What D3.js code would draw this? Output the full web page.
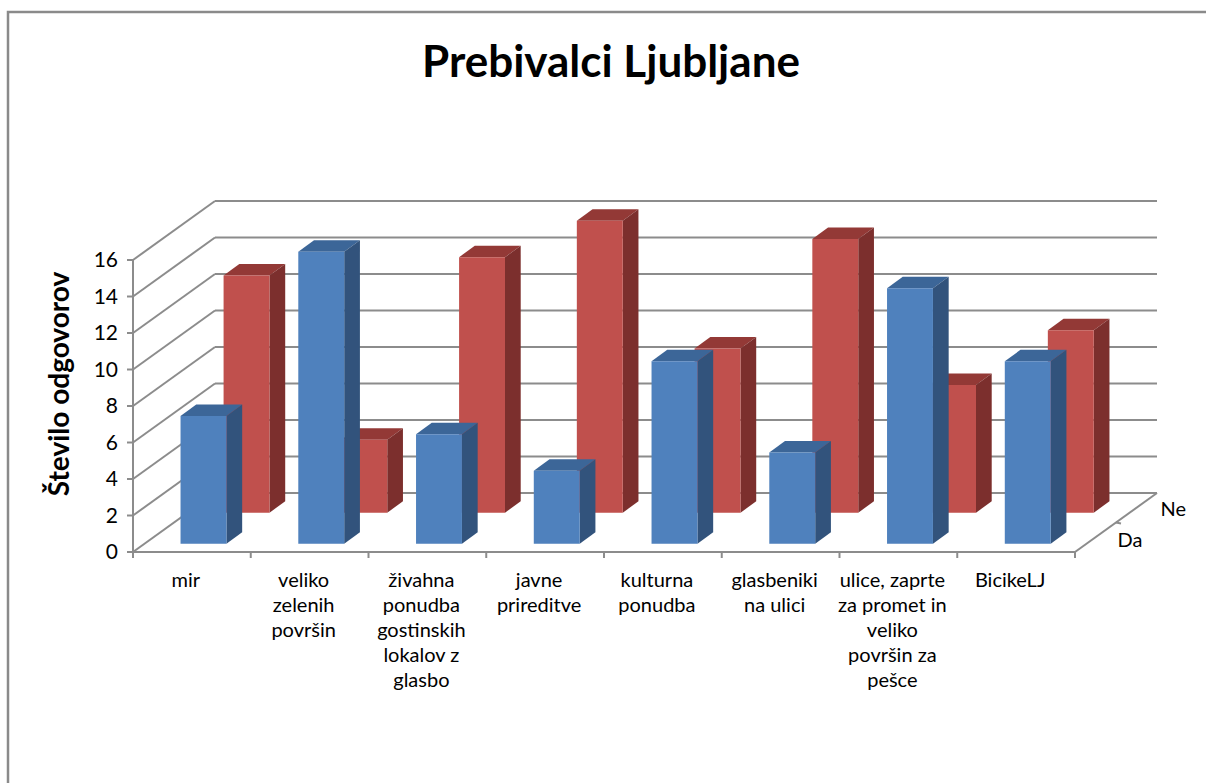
<!DOCTYPE html>
<html>
<head>
<meta charset="utf-8">
<script src="https://cdn.jsdelivr.net/npm/d3@7"></script>
<style>
  html, body { margin: 0; padding: 0; background: #fff; }
  svg { display: block; font-family: Lato, "Open Sans", sans-serif; }
</style>
</head>
<body>
<div id="chart"></div>
<script>
// categories (line breaks as in the original axis labels)
const categories = [
    "mir",
    "veliko\nzelenih\npovršin",
    "živahna\nponudba\ngostinskih\nlokalov z\nglasbo",
    "javne\nprireditve",
    "kulturna\nponudba",
    "glasbeniki\nna ulici",
    "ulice, zaprte\nza promet in\nveliko\npovršin za\npešce",
    "BicikeLJ"
];
const seriesNames = ["Da", "Ne"];
const daValues = [7, 16, 6, 4, 10, 5, 14, 10];
const neValues = [13, 4, 14, 16, 9, 15, 7, 10];
const yTicks = [0, 2, 4, 6, 8, 10, 12, 14, 16];

const W = 1206, H = 783;
const DX = 82, DY = -59;          // depth vector of the 3d box
const gridColor = "#8c8c8c";
const colors = {
    Da: { front: "#4f81bd", top: "#3c6698", side: "#32537c" },
    Ne: { front: "#c0504d", top: "#933936", side: "#7c2f2d" }
};

const svg = d3.select('#chart')
    .append('svg')
    .attr('width', W)
    .attr('height', H);

// outer frame
svg.append('path')
    .attr('d', `M8,${H + 5} L8,12 L${W + 5},12`)
    .attr('fill', 'none')
    .attr('stroke', '#8a8a8a')
    .attr('stroke-width', 2.5);

svg.append('text')
    .attr('x', 611)
    .attr('y', 77)
    .attr('text-anchor', 'middle')
    .attr('font-size', 44)
    .attr('font-weight', 'bold')
    .text('Prebivalci Ljubljane');

const x = d3.scaleBand()
    .domain(categories)
    .range([133, 1075])
    .paddingInner(0.61)
    .paddingOuter(0.305);

const y = d3.scaleLinear()
    .domain([0, 16])
    .range([552, 260]);

const z = d3.scaleBand()
    .domain(seriesNames)
    .range([0, 1])
    .paddingInner(0.635)
    .paddingOuter(0.27);

const step = x.step();
const x0 = x.range()[0], x1 = x.range()[1];

function p(px, py, d) {
    return [px + d * DX, py + d * DY];
}
const line = d3.line();

const grid = svg.append('g')
    .attr('fill', 'none')
    .attr('stroke', gridColor)
    .attr('stroke-width', 2);

// back wall gridlines + left wall diagonals
yTicks.forEach(t => {
    grid.append('path').attr('d', line([p(x0, y(t), 1), p(x1, y(t), 1)]));
    grid.append('path').attr('d', line([p(x0, y(t), 0), p(x0, y(t), 1)]));
});
// floor right edge, front axis, vertical axis
grid.append('path').attr('d', line([p(x1, y(0), 0), p(x1, y(0), 1)]));
grid.append('path').attr('d', line([[x0, y(0)], [x1, y(0)]]));
grid.append('path').attr('d', line([[x0, y(0)], [x0, y(16)]]));

// y ticks
yTicks.forEach(t => {
    grid.append('path').attr('d', line([[x0 - 6, y(t)], [x0, y(t)]]));
});
// x ticks at category boundaries
d3.range(categories.length + 1).forEach(i => {
    const tx = x0 + i * step;
    grid.append('path').attr('d', line([[tx, y(0)], [tx, y(0) + 6]]));
});
// depth tick between rows
const dm = (z('Da') + z.bandwidth() + z('Ne')) / 2;
const dmp = p(x1, y(0), dm);
grid.append('path').attr('d', line([dmp, [dmp[0] + 5, dmp[1] + 1]]));

// y tick labels
svg.append('g')
    .selectAll('text')
    .data(yTicks)
    .join('text')
    .attr('x', 118)
    .attr('y', d => y(d))
    .attr('dy', '0.35em')
    .attr('text-anchor', 'end')
    .attr('font-size', 21)
    .attr('fill', '#000')
    .text(d => d);

// y axis title
svg.append('text')
    .attr('transform', 'translate(69,384) rotate(-90)')
    .attr('text-anchor', 'middle')
    .attr('font-size', 28)
    .attr('font-weight', 'bold')
    .text('Število odgovorov');

// category labels
const catLabels = svg.append('g')
    .selectAll('text')
    .data(categories)
    .join('text')
    .attr('text-anchor', 'middle')
    .attr('font-size', 20)
    .attr('fill', '#000');
catLabels.each(function(d) {
    const cx = x(d) + x.bandwidth() / 2 - 6;
    d3.select(this).selectAll('tspan')
        .data(d.split('\n'))
        .join('tspan')
        .attr('x', cx)
        .attr('y', (s, i) => 587 + i * 25)
        .text(s => s);
});

// series depth labels
svg.append('g')
    .selectAll('text')
    .data(seriesNames)
    .join('text')
    .attr('x', d => p(x1, y(0), z(d) + z.bandwidth() / 2)[0] + 23)
    .attr('y', d => p(x1, y(0), z(d) + z.bandwidth() / 2)[1] + 2)
    .attr('dy', '0.35em')
    .attr('font-size', 20)
    .text(d => d);

// bars: back row first
const rows = [
    { name: 'Ne', values: neValues },
    { name: 'Da', values: daValues }
];
const bars = svg.append('g');
rows.forEach(row => {
    const d0 = z(row.name), d1 = d0 + z.bandwidth();
    const c = colors[row.name];
    row.values.forEach((v, i) => {
        const bx0 = x(categories[i]), bx1 = bx0 + x.bandwidth();
        const yb = y(0), yt = y(v);
        const g = bars.append('g');
        g.append('path')
            .attr('d', line([p(bx0, yt, d0), p(bx1, yt, d0), p(bx1, yt, d1), p(bx0, yt, d1)]) + 'Z')
            .attr('fill', c.top);
        g.append('path')
            .attr('d', line([p(bx1, yb, d0), p(bx1, yt, d0), p(bx1, yt, d1), p(bx1, yb, d1)]) + 'Z')
            .attr('fill', c.side);
        g.append('path')
            .attr('d', line([p(bx0, yb, d0), p(bx1, yb, d0), p(bx1, yt, d0), p(bx0, yt, d0)]) + 'Z')
            .attr('fill', c.front);
    });
});
</script>
</body>
</html>
